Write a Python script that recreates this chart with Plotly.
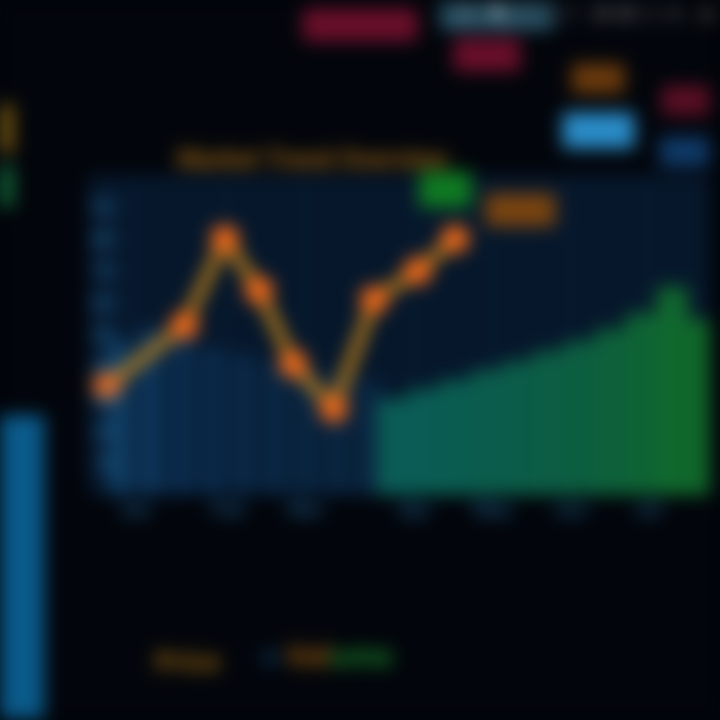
import plotly.graph_objects as go

# ---- data ----
line_x = [0.6, 3.1, 4.4, 5.5, 6.6, 7.9, 9.2, 10.6, 11.8]
line_y = [34, 53, 80, 64, 41, 27, 61, 70, 80]

vol_x = [1, 2, 3, 4, 5, 6, 7, 8, 9]
vol_y = [48, 52, 50, 46, 44, 42, 40, 38, 36]
vol_colors = ["#0e3b60", "#0d355a", "#0b2c4e", "#0a2a4a", "#0a2846", "#0a2744",
              "#0a2642", "#0a2642", "#0a2642"]

area_x = [9.8, 10.8, 11.8, 12.8, 13.8, 14.8, 15.8, 16.8, 17.8, 18.8, 19.6]
area_y = [30, 33, 36, 39, 42, 45, 48, 52, 57, 65, 55]
area_colors = ["#0a5c56", "#0a5c54", "#0a5c50", "#0b5c4c", "#0b5c48", "#0c5d44",
               "#0c5e40", "#0d603a", "#0e6334", "#10682e", "#10662a"]

y_ticks = [10, 20, 30, 40, 50, 60, 70, 80, 90]
x_ticks = [1.5, 4.5, 7, 10.5, 13, 15.5, 18]
x_labels = ["Jan", "Feb", "Mar", "Apr", "May", "Jun", "Jul"]

fig = go.Figure()
fig.add_trace(go.Bar(x=vol_x, y=vol_y, width=0.8,
                     marker=dict(color=vol_colors, line=dict(width=0)),
                     showlegend=False))
fig.add_trace(go.Bar(x=area_x, y=area_y, width=1.0,
                     marker=dict(color=area_colors, line=dict(width=0)),
                     showlegend=False))
fig.add_trace(go.Scatter(x=line_x, y=line_y, mode="lines+markers",
                         line=dict(color="#d08a18", width=10),
                         marker=dict(color="#f06a1a", size=28),
                         showlegend=False))


def badge(x, y, text, color, size, xanchor="center"):
    return dict(xref="paper", yref="paper", x=x, y=y, xanchor=xanchor, yanchor="middle",
                showarrow=False, text=text, bgcolor=color,
                font=dict(color=color, size=size))


fig.update_layout(
    width=720, height=720,
    paper_bgcolor="#02050b",
    plot_bgcolor="#06172b",
    margin=dict(l=88, r=10, t=175, b=225),
    bargap=0,
    xaxis=dict(range=[0, 20], showgrid=True, gridcolor="#0a2440", zeroline=False,
               tickvals=x_ticks, ticktext=[f"<b>{t}</b>" for t in x_labels],
               tickfont=dict(color="#1d5078", size=20, family="Roboto")),
    yaxis=dict(range=[0, 100], showgrid=False, zeroline=False,
               tickvals=y_ticks, ticks="", ticklabelposition="inside",
               tickfont=dict(color="#2a78b0", size=22, family="Roboto"),
               side="left"),
    annotations=[
        dict(xref="paper", yref="paper", x=0.14, y=1.05, xanchor="left", yanchor="middle",
             showarrow=False,
             text="<b><span style='color:#9a6414'>Market Trend Overview</span></b>",
             font=dict(size=26, family="Roboto")),
        badge(0.575, 0.955, "  ▲  ", "#0f7a22", 24),
        badge(0.695, 0.89, " +12% ", "#7a4410", 22),
        # ticker badges at the top
        badge(0.438, 1.47, "  NASDAQ  ", "#6a0f2a", 22),
        badge(0.642, 1.375, "  S&P  ", "#6a0f2a", 22),
        badge(0.658, 1.5, "       DOW       ", "#3a7c98", 18),
        badge(0.82, 1.30, " +1.2 ", "#6a3a0c", 20),
        badge(1.0, 1.234, " -0.8 ", "#5a0f24", 20, "right"),
        badge(0.82, 1.14, "  BTC  ", "#2a8cc8", 24),
        badge(1.0, 1.075, " ETH ", "#0f3a68", 20, "right"),
        # bottom legend-like labels
        dict(xref="paper", yref="paper", x=0.16, y=-0.52, xanchor="center", yanchor="middle",
             showarrow=False, text="<b><span style='color:#a06a10'>Price</span></b>",
             font=dict(size=26)),
        dict(xref="paper", yref="paper", x=0.385, y=-0.5, xanchor="center", yanchor="middle",
             showarrow=False,
             text="<b><span style='color:#0c3050'>■</span> "
                  "<span style='color:#a0600f'>Vol</span>"
                  "<span style='color:#1a8a2a'>ume</span></b>",
             font=dict(size=28)),
    ],
)

# side panels (decorative screen edges)
fig.add_shape(type="rect", xref="paper", yref="paper", x0=-0.16, x1=-0.07, y0=-0.7, y1=0.25,
              fillcolor="#0a5a8a", line=dict(width=0))
fig.add_shape(type="rect", xref="paper", yref="paper", x0=-0.16, x1=-0.12, y0=1.07, y1=1.22,
              fillcolor="#7a5a10", line=dict(width=0))
fig.add_shape(type="rect", xref="paper", yref="paper", x0=-0.16, x1=-0.12, y0=0.9, y1=1.03,
              fillcolor="#136a3a", line=dict(width=0))

fig.write_html("out.html",
               post_script="document.body.style.margin='0';"
                           "document.body.style.background='#02050b';"
                           "document.getElementById('{plot_id}').style.filter='blur(9px)';")
